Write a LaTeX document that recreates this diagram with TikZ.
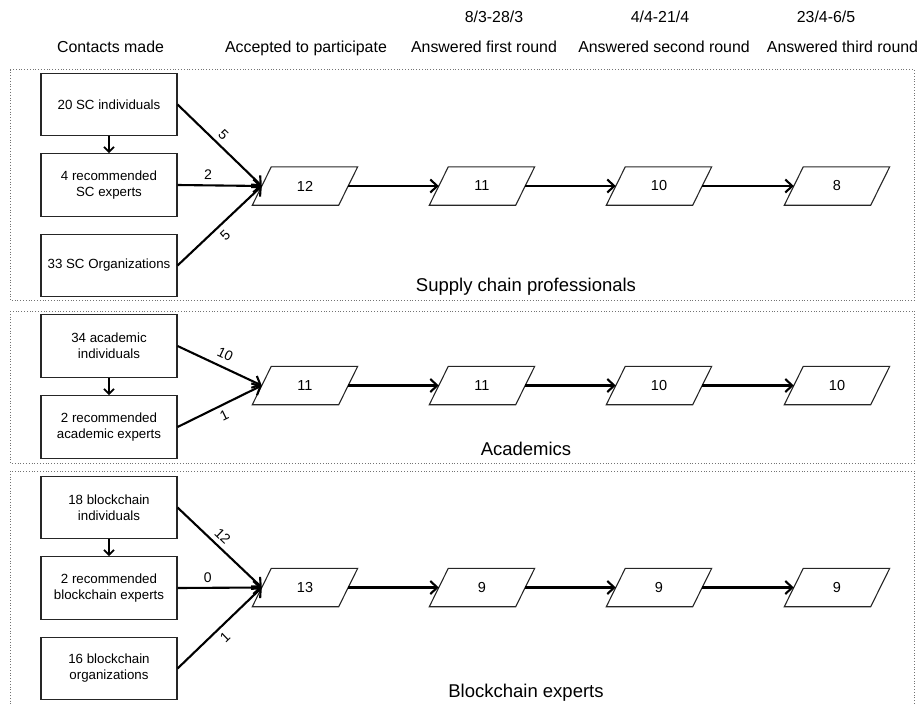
\documentclass[tikz,border=0pt]{standalone}
\usepackage{fontspec}
\setmainfont{Liberation Sans}
\usetikzlibrary{arrows.meta,calc}
\begin{document}
\begin{tikzpicture}[x=1pt,y=-1pt,
  contact/.style={draw=black!85, line width=1.1pt, minimum width=136pt, minimum height=62.5pt,
    inner sep=0pt, align=center, font=\fontsize{13.3}{16}\selectfont},
  count/.style={minimum width=86pt, minimum height=38pt, inner sep=0pt,
    font=\fontsize{14.5}{17}\selectfont},
  flow/.style={line width=2.1pt, -{Straight Barb[length=7pt,width=13pt]}},
  refer/.style={line width=1.8pt, -{Straight Barb[length=5pt,width=10pt]}},
  qty/.style={font=\fontsize{14}{16}\selectfont, sloped, inner sep=4.5pt},
  heading/.style={anchor=base, font=\fontsize{15.9}{18}\selectfont},
  grouplabel/.style={anchor=base, font=\fontsize{18.5}{21}\selectfont},
  groupframe/.style={draw=black!55, line width=0.8pt, dash pattern=on 0.8pt off 2pt},
]
\clip (0,0) rectangle (921,704);

% column headings and survey rounds
\node[heading] (hc) at (110.5,52) {Contacts made};
\node[heading] (ha) at (306,52) {Accepted to participate};
\node[heading] (h1) at (484,52) {Answered first round};
\node[heading] (h2) at (664,52) {Answered second round};
\node[heading] (h3) at (842.5,52) {Answered third round};
\node[heading] (d1) at (494,22.5) {8/3-28/3};
\node[heading] (d2) at (660,22.5) {4/4-21/4};
\node[heading] (d3) at (826,22.5) {23/4-6/5};

% group frames
\draw[groupframe] (10,69.5) rectangle (914,300);
\draw[groupframe] (10,311) rectangle (914,463);
\draw[groupframe] (10,471) rectangle (914,715);

% ---- supply chain professionals
\node[contact] (sa) at (109,104.5) {20 SC individuals};
\node[contact] (sb) at (109,185) {4 recommended\\SC experts};
\node[contact] (sc) at (109,265.5) {33 SC Organizations};
\node[count] (s0) at (305,186) {12};
\node[count] (s1) at (482,186) {11};
\node[count] (s2) at (659,186) {10};
\node[count] (s3) at (837,186) {8};
\node[grouplabel] (sl) at (526,291.5) {Supply chain professionals};

% ---- academics
\node[contact] (aa) at (109,346) {34 academic\\individuals};
\node[contact] (ab) at (109,427) {2 recommended\\academic experts};
\node[count] (a0) at (305,385.5) {11};
\node[count] (a1) at (482,385.5) {11};
\node[count] (a2) at (659,385.5) {10};
\node[count] (a3) at (837,385.5) {10};
\node[grouplabel] (al) at (526,455) {Academics};

% ---- blockchain experts
\node[contact] (ba) at (109,507.5) {18 blockchain\\individuals};
\node[contact] (bb) at (109,588) {2 recommended\\blockchain experts};
\node[contact] (bc) at (109,668.5) {16 blockchain\\organizations};
\node[count] (b0) at (305,587.5) {13};
\node[count] (b1) at (482,587.5) {9};
\node[count] (b2) at (659,587.5) {9};
\node[count] (b3) at (837,587.5) {9};
\node[grouplabel] (bl) at (526,697) {Blockchain experts};

% parallelogram outlines around the count nodes
\foreach \n in {s0,s1,s2,s3,a0,a1,a2,a3,b0,b1,b2,b3}
  \draw[line width=1.1pt, black!85]
    ($(\n.south west)+(-9.5,0)$) -- ($(\n.south east)+(-9.5,0)$) --
    ($(\n.north east)+(9.5,0)$) -- ($(\n.north west)+(9.5,0)$) -- cycle;

% referrals
\draw[refer] (sa) -- (sb);
\draw[refer] (aa) -- (ab);
\draw[refer] (ba) -- (bb);

% contacts to acceptance
\draw[flow] (sa.east) -- node[qty, above, pos=0.46] {5} (s0.west);
\draw[flow] (sb.east) -- node[qty, above, pos=0.36] {2} (s0.west);
\draw[flow] (sc.east) -- node[qty, below, pos=0.48] {5} (s0.west);
\draw[flow] (aa.east) -- node[qty, above, pos=0.5, inner sep=7pt] {10} (a0.west);
\draw[flow] (ab.east) -- node[qty, below, pos=0.5] {1} (a0.west);
\draw[flow] (ba.east) -- node[qty, above, pos=0.45] {12} (b0.west);
\draw[flow] (bb.east) -- node[qty, above, pos=0.36] {0} (b0.west);
\draw[flow] (bc.east) -- node[qty, below, pos=0.48] {1} (b0.west);

% rounds
\draw[flow] (s0.east) -- (s1.west);
\draw[flow] (s1.east) -- (s2.west);
\draw[flow] (s2.east) -- (s3.west);
\draw[flow] (a0.east) -- (a1.west);
\draw[flow] (a1.east) -- (a2.west);
\draw[flow] (a2.east) -- (a3.west);
\draw[flow] (b0.east) -- (b1.west);
\draw[flow] (b1.east) -- (b2.west);
\draw[flow] (b2.east) -- (b3.west);
\end{tikzpicture}
\end{document}
